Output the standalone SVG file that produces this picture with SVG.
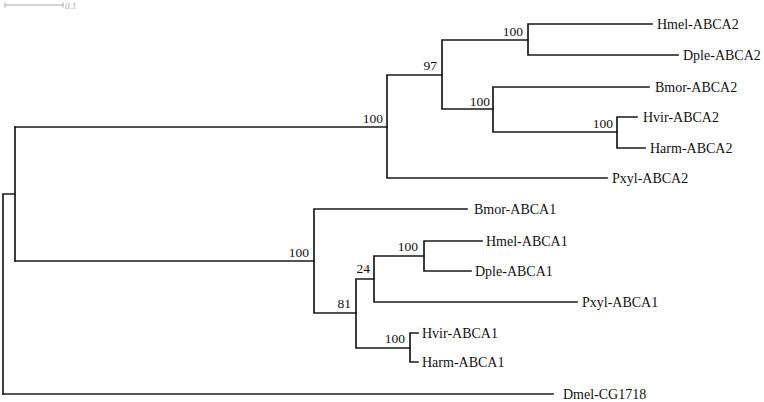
<svg xmlns="http://www.w3.org/2000/svg" width="764" height="402" viewBox="0 0 764 402">
<style>
.e{fill:none;stroke:#1a1a1a;stroke-width:1.7;stroke-linecap:square}
.leaf{font-family:"Liberation Serif","Times New Roman",serif;font-size:14px;fill:#111}
.bs{font-family:"Liberation Serif","Times New Roman",serif;font-size:13.5px;fill:#111;text-anchor:end}
.sc{fill:none;stroke:#aaa;stroke-width:1}
</style>
<rect width="764" height="402" fill="#fff"/>
<g id="scale">
<path class="sc" d="M5,5H63M5,2.5V7.5M63,2.5V7.5"/>
<text x="65" y="8.5" style="font-family:'Liberation Serif',serif;font-size:9px;font-style:italic;fill:#aaa">0.1</text>
</g>
<g id="connectors">
<path class="e" d="M3,394V194H15"/>
<path class="e" d="M3,394H553"/>
<path class="e" d="M15,127V261"/>
<path class="e" d="M15,127H387V178H607"/>
<path class="e" d="M387,127V75H442V40H528V24H652"/>
<path class="e" d="M528,40V55H678"/>
<path class="e" d="M442,75V109H493V87H649"/>
<path class="e" d="M493,109V132H617V117H637"/>
<path class="e" d="M617,132V148H645"/>
<path class="e" d="M15,261H314V209H467"/>
<path class="e" d="M314,261V313H356V279H374V256H424V241H482"/>
<path class="e" d="M424,256V271H471"/>
<path class="e" d="M374,279V302H577"/>
<path class="e" d="M356,313V348H410V333H418"/>
<path class="e" d="M410,348V362H418"/>
</g>
<g id="n-abca2-root"><text class="bs" x="383" y="123">100</text></g>
<g id="n-97"><text class="bs" x="437" y="70">97</text></g>
<g id="n-hmel-dple-a2"><text class="bs" x="523" y="36">100</text></g>
<g id="n-bmor-hvir-a2"><text class="bs" x="490" y="106">100</text></g>
<g id="n-hvir-harm-a2"><text class="bs" x="613" y="128">100</text></g>
<g id="n-abca1-root"><text class="bs" x="309" y="257">100</text></g>
<g id="n-81"><text class="bs" x="351" y="308">81</text></g>
<g id="n-24"><text class="bs" x="370" y="273">24</text></g>
<g id="n-hmel-dple-a1"><text class="bs" x="418" y="251">100</text></g>
<g id="n-hvir-harm-a1"><text class="bs" x="405" y="343">100</text></g>
<g id="leaf-hmel-abca2"><text class="leaf" x="657" y="29">Hmel-ABCA2</text></g>
<g id="leaf-dple-abca2"><text class="leaf" x="683" y="60">Dple-ABCA2</text></g>
<g id="leaf-bmor-abca2"><text class="leaf" x="655" y="92">Bmor-ABCA2</text></g>
<g id="leaf-hvir-abca2"><text class="leaf" x="643" y="122">Hvir-ABCA2</text></g>
<g id="leaf-harm-abca2"><text class="leaf" x="650" y="153">Harm-ABCA2</text></g>
<g id="leaf-pxyl-abca2"><text class="leaf" x="612" y="183">Pxyl-ABCA2</text></g>
<g id="leaf-bmor-abca1"><text class="leaf" x="474" y="214">Bmor-ABCA1</text></g>
<g id="leaf-hmel-abca1"><text class="leaf" x="486" y="246">Hmel-ABCA1</text></g>
<g id="leaf-dple-abca1"><text class="leaf" x="475" y="276">Dple-ABCA1</text></g>
<g id="leaf-pxyl-abca1"><text class="leaf" x="582" y="307">Pxyl-ABCA1</text></g>
<g id="leaf-hvir-abca1"><text class="leaf" x="422" y="338">Hvir-ABCA1</text></g>
<g id="leaf-harm-abca1"><text class="leaf" x="422" y="367">Harm-ABCA1</text></g>
<g id="leaf-dmel-cg1718"><text class="leaf" x="563" y="399">Dmel-CG1718</text></g>
</svg>
